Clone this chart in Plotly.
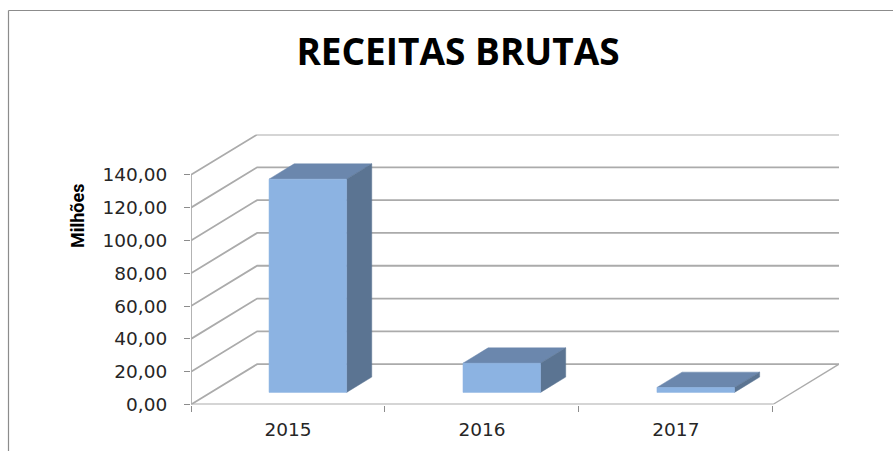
import plotly.graph_objects as go

W, H = 893, 451
title_text = "RECEITAS BRUTAS"
y_title = "Milhões"
categories = ["2015", "2016", "2017"]
revenues = [130, 17.8, 3]
y_ticks = [0, 20, 40, 60, 80, 100, 120, 140]
y_labels = ["0,00", "20,00", "40,00", "60,00", "80,00", "100,00", "120,00", "140,00"]

# oblique depth of the 3-D box, in axis units
DX, DY = 0.341, 24.6
GAP, BAR_W = 0.30, 0.40
D0, D1 = 0.30, 0.68

GRID = "#ababab"
FRONT, TOP, SIDE = "#8cb3e2", "#6b87ad", "#5b7492"


def proj(x, v, d=0.0):
    return x + d * DX, v + d * DY


def poly(points, color):
    xy = [proj(*p) for p in points]
    xy.append(xy[0])
    return go.Scatter(x=[p[0] for p in xy], y=[p[1] for p in xy], mode="lines",
                      fill="toself", fillcolor=color, line=dict(color=color, width=0.5),
                      hoverinfo="skip", showlegend=False)


def line(points, width=1.8, color=GRID):
    xy = [proj(*p) for p in points]
    return go.Scatter(x=[p[0] for p in xy], y=[p[1] for p in xy], mode="lines",
                      line=dict(color=color, width=width), hoverinfo="skip", showlegend=False,
                      cliponaxis=False)


n = len(categories)
fig = go.Figure()
for v in y_ticks:
    fig.add_trace(line([(0, v, 0), (0, v, 1), (n, v, 1)]))
fig.add_trace(line([(n, 0, 0), (n, 0, 1)], width=1.3))
fig.add_trace(line([(0, 0, 0), (n, 0, 0)]))
fig.add_trace(line([(0, 0, 0), (0, y_ticks[-1], 0)]))

for i, v in enumerate(revenues):
    a, b = i + GAP, i + GAP + BAR_W
    fig.add_trace(poly([(a, v, D0), (b, v, D0), (b, v, D1), (a, v, D1)], TOP))
    fig.add_trace(poly([(b, 0, D0), (b, v, D0), (b, v, D1), (b, 0, D1)], SIDE))
    fig.add_trace(poly([(a, 0, D0), (b, 0, D0), (b, v, D0), (a, v, D0)], FRONT))

tick_font = dict(family="DejaVu Sans", size=18.5, color="#262626")
fig.update_layout(
    width=W, height=H, margin=dict(l=0, r=0, t=0, b=0),
    paper_bgcolor="white", plot_bgcolor="white", showlegend=False,
    title=dict(text=f"<b>{title_text}</b>", x=458 / W, xanchor="center", y=1 - 52 / H, yanchor="middle",
               font=dict(family="Open Sans", size=37, color="black")),
    xaxis=dict(domain=[191 / W, 839 / W], range=[0, n + DX], showgrid=False, zeroline=False,
               showline=False, automargin=False,
               tickvals=[i + 0.5 for i in range(n)], ticktext=categories, ticks="",
               ticklabelstandoff=12, tickfont=tick_font,
               minor=dict(tickvals=list(range(n + 1)), ticks="outside", ticklen=6, tickwidth=1.2, tickcolor="#8c8c8c")),
    yaxis=dict(domain=[(H - 404.5) / H, (H - 134.5) / H], range=[0, 140 + DY], showgrid=False, zeroline=False,
               showline=False, automargin=False,
               tickvals=y_ticks, ticktext=y_labels, ticks="outside", ticklen=6, tickwidth=1.2, tickcolor="#8c8c8c",
               ticklabelstandoff=13, tickfont=tick_font),
    annotations=[dict(text=f"<b>{y_title}</b>", textangle=-90, xref="paper", yref="paper",
                      x=77 / W, y=1 - 216 / H, showarrow=False, xanchor="center", yanchor="middle",
                      font=dict(family="Liberation Sans Narrow, Roboto", size=18, color="black"))],
    shapes=[
        dict(type="line", xref="paper", yref="paper", x0=8.5 / W, x1=1, y0=1 - 10.5 / H, y1=1 - 10.5 / H,
             line=dict(color="#8c8c8c", width=1.2)),
        dict(type="line", xref="paper", yref="paper", x0=8.5 / W, x1=8.5 / W, y0=0, y1=1 - 10.5 / H,
             line=dict(color="#8c8c8c", width=1.2)),
    ],
)
fig.write_html("out.html", config={"displayModeBar": False},
               post_script="document.body.style.margin='0';document.documentElement.style.overflow='hidden';")
